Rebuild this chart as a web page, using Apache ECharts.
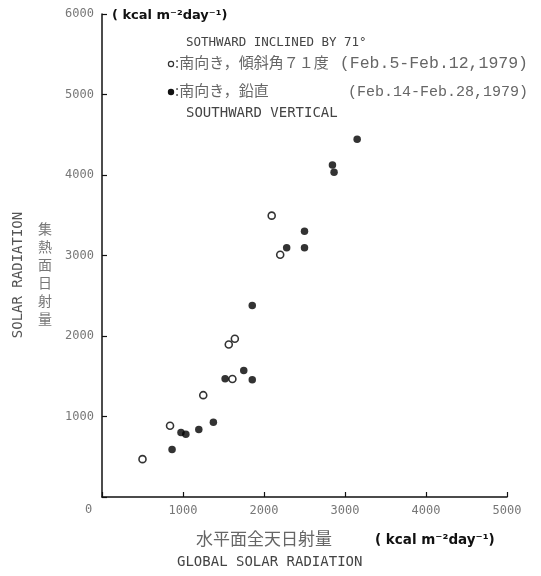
<!DOCTYPE html>
<html><head><meta charset="utf-8">
<script src="https://cdn.jsdelivr.net/npm/echarts@6/dist/echarts.min.js"></script>
<style>html,body{margin:0;padding:0;background:#fff}#c{width:541px;height:576px}</style>
</head><body><div id="c"></div>
<script>
// Data (kcal m^-2 day^-1)
const inclinedX = [500, 840, 1250, 1610, 1565, 1640, 2200, 2095];
const inclinedY = [470, 885, 1265, 1465, 1895, 1965, 3010, 3495];
const verticalX = [865, 975, 1035, 1195, 1375, 1520, 1750, 1855, 1855, 2280, 2500, 2500, 2845, 2865, 3150];
const verticalY = [590, 800, 780, 840, 930, 1470, 1570, 1455, 2380, 3095, 3095, 3300, 4125, 4035, 4445];
const xTicks = [0, 1000, 2000, 3000, 4000, 5000];
const yTicks = [0, 1000, 2000, 3000, 4000, 5000, 6000];

const pairs = (xs, ys) => xs.map((x, i) => [x, ys[i]]);
const chart = echarts.init(document.getElementById('c'), null, {renderer: 'canvas'});
const gray = '#777';
const mono = '"DejaVu Sans Mono", monospace';
const cour = '"Liberation Mono", monospace';
const cjk = '"Noto Sans CJK JP", sans-serif';
chart.setOption({
  animation: false,
  backgroundColor: '#fff',
  grid: {left: 102, right: 34, top: 14, bottom: 79},
  xAxis: {
    type: 'value', min: xTicks[0], max: xTicks[xTicks.length - 1], interval: 1000,
    axisLine: {lineStyle: {color: '#111', width: 1.5}},
    axisTick: {show: true, inside: true, length: 5, lineStyle: {color: '#111', width: 1.2}},
    axisLabel: {color: gray, fontFamily: mono, fontSize: 12, margin: 8,
      formatter: v => (v === 0 ? '' : String(v))},
    splitLine: {show: false}
  },
  yAxis: {
    type: 'value', min: yTicks[0], max: yTicks[yTicks.length - 1], interval: 1000,
    axisLine: {show: true, lineStyle: {color: '#111', width: 1.5}},
    axisTick: {show: true, inside: true, length: 5, lineStyle: {color: '#111', width: 1.2}},
    axisLabel: {color: gray, fontFamily: mono, fontSize: 12, margin: 8,
      formatter: v => (v === 0 ? '' : String(v))},
    splitLine: {show: false}
  },
  series: [
    {type: 'scatter', name: 'inclined', data: pairs(inclinedX, inclinedY), symbol: 'circle', symbolSize: 7,
     itemStyle: {color: '#fff', borderColor: '#000', borderWidth: 1.6}},
    {type: 'scatter', name: 'vertical', data: pairs(verticalX, verticalY), symbol: 'circle', symbolSize: 7.5,
     itemStyle: {color: '#000'}}
  ],
  graphic: [
    {type: 'text', left: 85, top: 504, style: {text: '0', fill: gray, font: '12px ' + mono}},
    {type: 'text', left: 112, top: 9, style: {text: '( kcal m⁻²day⁻¹)', fill: '#111', font: 'bold 13px "DejaVu Sans", sans-serif'}},
    {type: 'text', left: 186, top: 36, style: {text: 'SOTHWARD INCLINED BY 71°', fill: '#444', font: '12.5px ' + mono}},
    {type: 'circle', shape: {cx: 171, cy: 64, r: 2.6}, style: {fill: '#fff', stroke: '#333', lineWidth: 1.2}},
    {type: 'text', left: 175, top: 55, style: {text: ':南向き，傾斜角７１度', fill: '#666', font: '15px ' + cjk}},
    {type: 'text', x: 528, y: 64, style: {text: '(Feb.5-Feb.12,1979)', fill: '#666', font: '16.5px ' + cour, align: 'right', verticalAlign: 'middle'}},
    {type: 'circle', shape: {cx: 171, cy: 92, r: 3.2}, style: {fill: '#111'}},
    {type: 'text', left: 175, top: 83, style: {text: ':南向き，鉛直', fill: '#666', font: '15px ' + cjk}},
    {type: 'text', x: 528, y: 92, style: {text: '(Feb.14-Feb.28,1979)', fill: '#666', font: '15px ' + cour, align: 'right', verticalAlign: 'middle'}},
    {type: 'text', left: 186, top: 106, style: {text: 'SOUTHWARD VERTICAL', fill: '#444', font: '14px ' + mono}},
    {type: 'text', x: 18, y: 275, rotation: Math.PI / 2,
     style: {text: 'SOLAR RADIATION', fill: '#555', font: '14px ' + mono, align: 'center', verticalAlign: 'middle'}},
    {type: 'text', left: 38, top: 220, style: {text: '集\n熱\n面\n日\n射\n量', fill: '#777', font: '14px ' + cjk, lineHeight: 18}},
    {type: 'text', left: 196, top: 530, style: {text: '水平面全天日射量', fill: '#666', font: '17px ' + cjk}},
    {type: 'text', left: 375, top: 533, style: {text: '( kcal m⁻²day⁻¹)', fill: '#111', font: 'bold 13.5px "DejaVu Sans", sans-serif'}},
    {type: 'text', left: 177, top: 555, style: {text: 'GLOBAL SOLAR RADIATION', fill: '#444', font: '14px ' + mono}}
  ]
});
</script></body></html>
